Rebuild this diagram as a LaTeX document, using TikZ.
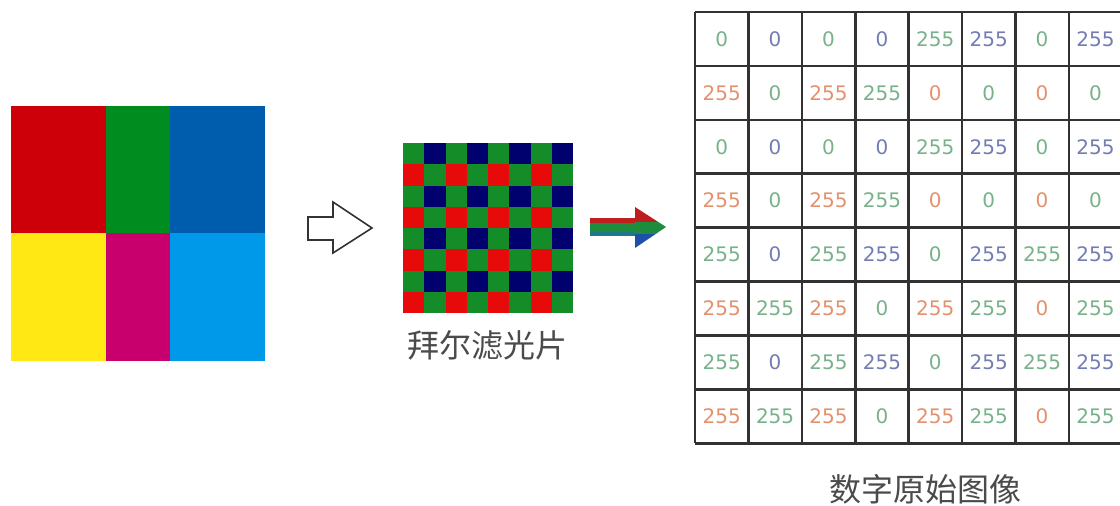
\documentclass[tikz,border=0pt]{standalone}
\usepackage{fontspec}
\newfontfamily\cjk{Noto Sans CJK SC}
\newfontfamily\numfont{DejaVu Sans}
\definecolor{bRed}{RGB}{205,0,10}
\definecolor{bGreen}{RGB}{0,140,30}
\definecolor{bBlue}{RGB}{0,92,172}
\definecolor{bYellow}{RGB}{255,232,20}
\definecolor{bMag}{RGB}{200,0,110}
\definecolor{bLight}{RGB}{0,152,232}
\definecolor{fGreen}{RGB}{20,140,40}
\definecolor{fBlue}{RGB}{0,0,110}
\definecolor{fRed}{RGB}{230,10,10}
\definecolor{ngreen}{RGB}{120,178,138}
\definecolor{nblue}{RGB}{115,125,180}
\definecolor{norange}{RGB}{228,145,110}
\definecolor{labelgray}{RGB}{75,75,75}
\definecolor{gridline}{RGB}{50,50,50}
\definecolor{aRed}{RGB}{190,30,30}
\definecolor{aGreen}{RGB}{30,140,60}
\definecolor{aBlue}{RGB}{30,80,170}
\definecolor{aTeal}{RGB}{30,120,140}
\tikzset{
  num/.style={font=\numfont\fontsize{20}{20}\selectfont, inner sep=0pt},
  caption/.style={font=\cjk\fontsize{32}{32}\selectfont, text=labelgray, inner sep=0pt},
  hollow/.style={draw=black!80, line width=1.6pt, fill=white, line join=miter},
  gridrule/.style={draw=gridline, line width=2.6pt},
}
\begin{document}
\begin{tikzpicture}[x=1pt,y=-1pt]
\useasboundingbox (0,0) rectangle (1120,506);
\fill[white] (0,0) rectangle (1120,506);
\begin{scope}
\clip (0,0) rectangle (1120,506);
% source colour blocks
\fill[bRed]    (11,106) rectangle (106,233);
\fill[bGreen]  (106,106) rectangle (170,233);
\fill[bBlue]   (170,106) rectangle (265,233);
\fill[bYellow] (11,233) rectangle (106,361);
\fill[bMag]    (106,233) rectangle (170,361);
\fill[bLight]  (170,233) rectangle (265,361);
\node[inner sep=0pt, minimum width=254pt, minimum height=255pt] (src) at (138,233.5) {};

% hollow arrow
\draw[hollow] (308,217) -- (333,217) -- (333,202) -- (372,228) -- (333,253) -- (333,240) -- (308,240) -- cycle;

% Bayer filter
\fill[fGreen] (403,143) rectangle (573,313);
\foreach \r in {0,...,7}{
  \foreach \c in {0,...,7}{
    \pgfmathtruncatemacro\rp{mod(\r,2)}
    \pgfmathtruncatemacro\cp{mod(\c,2)}
    \ifnum\rp=0
      \ifnum\cp=1 \fill[fBlue] ({403+21.25*\c},{143+21.25*\r}) rectangle ++(21.25,21.25);\fi
    \else
      \ifnum\cp=0 \fill[fRed] ({403+21.25*\c},{143+21.25*\r}) rectangle ++(21.25,21.25);\fi
    \fi
  }
}
\node[inner sep=0pt, minimum size=170pt] (bayer) at (488,228) {};
\node[caption] (bayerlabel) at (487,345) {拜尔滤光片};

% coloured arrow (striped)
\fill[aRed]   (590,218) rectangle (636,223);
\fill[aGreen] (590,223) rectangle (636,232);
\fill[aTeal]  (590,232) rectangle (636,236);
\begin{scope}
  \clip (635,207) -- (666,227) -- (635,248) -- cycle;
  \fill[aRed]   (630,205) rectangle (670,222);
  \fill[aGreen] (630,222) rectangle (670,234);
  \fill[aBlue]  (630,234) rectangle (670,250);
\end{scope}

% raw image grid
\foreach \k in {0,...,8}{
  \draw[gridrule] ({695+53.4*\k},12) -- ({695+53.4*\k},443.2);
  \draw[gridrule] (695,{12+53.9*\k}) -- (1130,{12+53.9*\k});
}
\foreach \r/\vals in {1/{0,0,0,0,255,255,0,255},
                      2/{255,0,255,255,0,0,0,0},
                      3/{0,0,0,0,255,255,0,255},
                      4/{255,0,255,255,0,0,0,0},
                      5/{255,0,255,255,0,255,255,255},
                      6/{255,255,255,0,255,255,0,255},
                      7/{255,0,255,255,0,255,255,255},
                      8/{255,255,255,0,255,255,0,255}}{
  \foreach \v [count=\c] in \vals {
    \pgfmathtruncatemacro\rp{mod(\r,2)}
    \pgfmathtruncatemacro\cp{mod(\c,2)}
    \ifnum\rp=1
      \ifnum\cp=1 \def\ncol{ngreen}\else\def\ncol{nblue}\fi
    \else
      \ifnum\cp=1 \def\ncol{norange}\else\def\ncol{ngreen}\fi
    \fi
    \node[num, text=\ncol] (n-\r-\c) at ({695+53.4*(\c-0.5)},{12+53.9*(\r-0.5)}) {\v};
  }
}
\node[caption] (rawlabel) at (925,489) {数字原始图像};
\end{scope}
\end{tikzpicture}
\end{document}
